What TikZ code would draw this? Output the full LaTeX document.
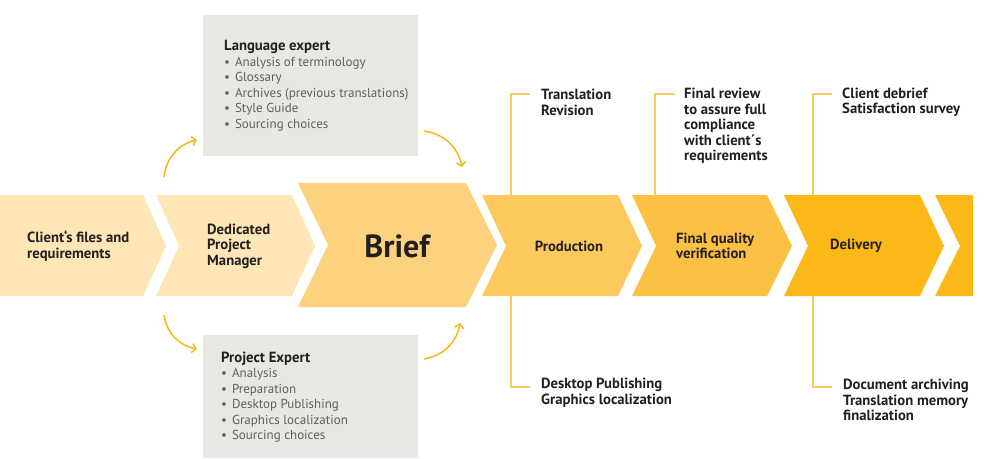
\documentclass[tikz,border=0pt]{standalone}
\usepackage{fontspec}
\setmainfont{PT Sans}
\usepackage{tikz}
\usetikzlibrary{arrows.meta}
\usetikzlibrary{positioning}

\definecolor{palestep}{HTML}{FEE6B6}
\definecolor{briefstep}{HTML}{FDD27F}
\definecolor{prodstep}{HTML}{FDC95C}
\definecolor{finalstep}{HTML}{FCC143}
\definecolor{delivstep}{HTML}{FBB817}
\definecolor{boxgrey}{HTML}{E8E8E3}
\definecolor{textdark}{HTML}{231F20}
\definecolor{itemgrey}{HTML}{5E5E5E}
\definecolor{arrowyellow}{HTML}{F8B515}
\definecolor{lineyellow}{HTML}{FDC95C}

\newcommand{\bitem}[1]{\textbullet\hspace{5pt}#1}

\tikzset{
  steptext/.style={font=\bfseries\fontsize{14.7}{15.5}\selectfont, text=textdark, align=left, inner sep=0pt},
  boxtext/.style={font=\fontsize{13}{15.5}\selectfont, text=itemgrey, align=left, inner sep=0pt},
  greybox/.style={fill=boxgrey, inner sep=0pt, minimum width=215pt},
  curvearrow/.style={draw=arrowyellow, line width=1.5pt, -{Straight Barb[length=4pt,width=9pt]}},
  calloutline/.style={draw=lineyellow, line width=1.6pt}
}

\begin{document}
\begin{tikzpicture}[x=1pt,y=-1pt]
        \useasboundingbox (0,0) rectangle (1000,458);

        % the chevrons
        \fill[palestep] (0,195) -- (143,195) -- (166,246) -- (143,296) -- (0,296) -- cycle;
        \fill[palestep] (156,195) -- (292,195) -- (315,246) -- (292,296) -- (156,296) -- (179,246) -- cycle;
        \fill[briefstep] (298,183) -- (466,183) -- (497,245) -- (466,307) -- (298,307) -- (328,245) -- cycle;
        \fill[prodstep] (482,195) -- (618,195) -- (642,246) -- (618,296) -- (482,296) -- (506,246) -- cycle;
        \fill[finalstep] (632,195) -- (767,195) -- (792,246) -- (767,296) -- (632,296) -- (656,246) -- cycle;
        \fill[delivstep] (784,195) -- (920,195) -- (944,246) -- (920,296) -- (784,296) -- (808,246) -- cycle;
        \fill[delivstep] (935,195) -- (973,195) -- (973,296) -- (935,296) -- (960,246) -- cycle;

        \node[steptext, anchor=west] (clientfiles) at (27,246) {Client‘s files and\\requirements};
        \node[steptext, anchor=west] (manager) at (207,246) {Dedicated\\Project\\Manager};
        \node[font=\bfseries\fontsize{32}{36}\selectfont, text=textdark, inner sep=0pt] (brief) at (397,246) {Brief};
        \node[steptext] (production) at (569,246) {Production};
        \node[steptext, anchor=west] (finalquality) at (676,246) {Final quality\\verification};
        \node[steptext] (delivery) at (856,246) {Delivery};

        % grey boxes
        \node[greybox, minimum height=141pt] (langbox) at (310.5,85.5) {};
        \node[boxtext, anchor=west] (langtext) at (224,85.5) {\textcolor{textdark}{\fontsize{14.7}{15.5}\selectfont\textbf{Language expert}}\\
            \bitem{Analysis of terminology}\\ \bitem{Glossary}\\ \bitem{Archives (previous translations)}\\
            \bitem{Style Guide}\\ \bitem{Sourcing choices}};
        \node[greybox, minimum height=123pt] (projbox) at (310.5,396.5) {};
        \node[boxtext, anchor=west] (projtext) at (221,397) {\textcolor{textdark}{\fontsize{14.7}{15.5}\selectfont\textbf{Project Expert}}\\
            \bitem{Analysis}\\ \bitem{Preparation}\\ \bitem{Desktop Publishing}\\
            \bitem{Graphics localization}\\ \bitem{Sourcing choices}};

        % curved arrows
        \coordinate (upstart) at (164,177);
        \coordinate (upend) at (197,140);
        \coordinate (briefin) at (424,131);
        \coordinate (briefintip) at (462,167);
        \coordinate (downstart) at (164,315);
        \coordinate (downend) at (197,349);
        \coordinate (briefup) at (424,359);
        \coordinate (briefuptip) at (460,323);
        \draw[curvearrow] (upstart) to[bend left=35] (upend);
        \draw[curvearrow] (briefin) to[bend left=35] (briefintip);
        \draw[curvearrow] (downstart) to[bend right=35] (downend);
        \draw[curvearrow] (briefup) to[bend right=35] (briefuptip);

        % callouts above and below
        \coordinate (prodtop) at (511,195);
        \coordinate (prodtoptick) at (530,94);
        \coordinate (finaltop) at (655,195);
        \coordinate (finaltoptick) at (675,94);
        \coordinate (delivtop) at (813,195);
        \coordinate (delivtoptick) at (832,94);
        \coordinate (prodbottom) at (511,296);
        \coordinate (prodbottomtick) at (530,387);
        \coordinate (delivbottom) at (813,296);
        \coordinate (delivbottomtick) at (832,387);
        \draw[calloutline] (prodtop) |- (prodtoptick);
        \draw[calloutline] (finaltop) |- (finaltoptick);
        \draw[calloutline] (delivtop) |- (delivtoptick);
        \draw[calloutline] (prodbottom) |- (prodbottomtick);
        \draw[calloutline] (delivbottom) |- (delivbottomtick);

        \node[steptext, anchor=west] (revision) at (541,102.5) {Translation\\Revision};
        \node[steptext, anchor=west] (review) at (684,126) {Final review\\to assure full\\compliance\\with client´s\\requirements};
        \node[steptext, anchor=west] (debrief) at (842,102.5) {Client debrief\\Satisfaction survey};
        \node[steptext, anchor=west] (publishing) at (541,392.5) {Desktop Publishing\\Graphics localization};
        \node[steptext, anchor=west] (archiving) at (843,400) {Document archiving\\Translation memory\\finalization};
    \end{tikzpicture}
\end{document}
